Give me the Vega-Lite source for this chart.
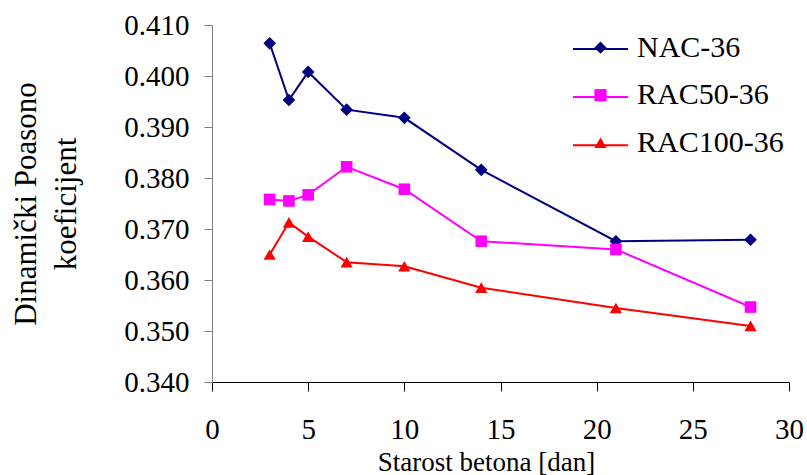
{
  "$schema": "https://vega.github.io/schema/vega-lite/v6.json",
  "autosize": {"type": "none"},
  "padding": {"left": 212, "top": 25, "right": 18, "bottom": 93},
  "width": 577,
  "height": 357,
  "background": "white",
  "config": {
    "view": {"stroke": null},
    "font": "Liberation Serif"
  },
  "data": {
    "values": [
      {"dan": 3, "serija": "NAC-36", "v": 0.4064},
      {"dan": 4, "serija": "NAC-36", "v": 0.3953},
      {"dan": 5, "serija": "NAC-36", "v": 0.4008},
      {"dan": 7, "serija": "NAC-36", "v": 0.3934},
      {"dan": 10, "serija": "NAC-36", "v": 0.3918},
      {"dan": 14, "serija": "NAC-36", "v": 0.3816},
      {"dan": 21, "serija": "NAC-36", "v": 0.3676},
      {"dan": 28, "serija": "NAC-36", "v": 0.3679},
      {"dan": 3, "serija": "RAC50-36", "v": 0.3758},
      {"dan": 4, "serija": "RAC50-36", "v": 0.3755},
      {"dan": 5, "serija": "RAC50-36", "v": 0.3767},
      {"dan": 7, "serija": "RAC50-36", "v": 0.3822},
      {"dan": 10, "serija": "RAC50-36", "v": 0.3778},
      {"dan": 14, "serija": "RAC50-36", "v": 0.3676},
      {"dan": 21, "serija": "RAC50-36", "v": 0.3660},
      {"dan": 28, "serija": "RAC50-36", "v": 0.3547},
      {"dan": 3, "serija": "RAC100-36", "v": 0.3650},
      {"dan": 4, "serija": "RAC100-36", "v": 0.3713},
      {"dan": 5, "serija": "RAC100-36", "v": 0.3685},
      {"dan": 7, "serija": "RAC100-36", "v": 0.3635},
      {"dan": 10, "serija": "RAC100-36", "v": 0.3627},
      {"dan": 14, "serija": "RAC100-36", "v": 0.3585},
      {"dan": 21, "serija": "RAC100-36", "v": 0.3545},
      {"dan": 28, "serija": "RAC100-36", "v": 0.3510}
    ]
  },
  "encoding": {
    "x": {
      "field": "dan", "type": "quantitative",
      "scale": {"domain": [0, 30], "nice": false, "zero": false},
      "axis": {
        "title": "Starost betona [dan]",
        "values": [0, 5, 10, 15, 20, 25, 30],
        "grid": false,
        "domainColor": "#000000", "domainWidth": 1,
        "tickColor": "#000000", "tickSize": 9, "tickWidth": 1,
        "labelFont": "Liberation Serif", "labelFontSize": 29, "labelColor": "#000000",
        "labelPadding": 24, "labelFlush": false, "labelOverlap": false,
        "titleFont": "Liberation Serif", "titleFontSize": 27, "titleFontWeight": "normal", "titleColor": "#000000",
        "titleX": 274, "titleY": 88, "titleBaseline": "alphabetic", "titleAnchor": "middle", "titleAlign": "center"
      }
    },
    "y": {
      "field": "v", "type": "quantitative",
      "scale": {"domain": [0.34, 0.41], "nice": false, "zero": false},
      "axis": {
        "title": ["Dinamički Poasono", "koeficijent"],
        "values": [0.34, 0.35, 0.36, 0.37, 0.38, 0.39, 0.40, 0.41],
        "format": ".3f",
        "grid": false,
        "domainColor": "#808080", "domainWidth": 1,
        "tickColor": "#808080", "tickSize": 8, "tickWidth": 1,
        "labelFont": "Liberation Serif", "labelFontSize": 29, "labelColor": "#000000",
        "labelPadding": 15, "labelFlush": false, "labelOverlap": false,
        "titleFont": "Liberation Serif", "titleFontSize": 31, "titleFontWeight": "normal", "titleColor": "#000000",
        "titleLineHeight": 40,
        "titleX": -201, "titleBaseline": "top", "titleAngle": -90
      }
    }
  },
  "layer": [
    {
      "mark": {"type": "line", "strokeWidth": 2},
      "encoding": {
        "color": {
          "field": "serija", "type": "nominal",
          "sort": ["NAC-36", "RAC50-36", "RAC100-36"],
          "scale": {"range": ["#000080", "#FF00FF", "#FF0000"]},
          "legend": {
            "title": null,
            "orient": "none",
            "legendX": 360,
            "legendY": -4.6,
            "padding": 0,
            "symbolType": "stroke",
            "symbolSize": 3025,
            "symbolStrokeWidth": 2,
            "labelFont": "Liberation Serif",
            "labelFontSize": 30,
            "labelExpr": "''",
            "labelOffset": 10,
            "rowPadding": 4.2
          }
        }
      }
    },
    {
      "transform": [{"filter": "datum.serija === 'NAC-36'"}],
      "mark": {"type": "point", "shape": "diamond", "filled": true, "size": 160, "color": "#000080", "opacity": 1, "strokeWidth": 0}
    },
    {
      "transform": [{"filter": "datum.serija === 'RAC50-36'"}],
      "mark": {"type": "point", "shape": "square", "filled": true, "size": 135, "color": "#FF00FF", "opacity": 1, "strokeWidth": 0}
    },
    {
      "transform": [{"filter": "datum.serija === 'RAC100-36'"}],
      "mark": {"type": "point", "shape": "triangle-up", "filled": true, "size": 150, "color": "#FF0000", "opacity": 1, "strokeWidth": 0}
    },
    {
      "mark": {"type": "point", "filled": true, "size": 0, "strokeWidth": 0},
      "encoding": {
        "fill": {
          "field": "serija", "type": "nominal",
          "scale": {"domain": ["NAC-36", "RAC50-36", "RAC100-36"], "range": ["#000080", "#FF00FF", "#FF0000"]},
          "legend": {
            "title": null,
            "orient": "none",
            "legendX": 373.5,
            "legendY": 7.7,
            "padding": 0,
            "symbolSize": 150,
            "symbolOpacity": 1,
            "symbolStrokeWidth": 0,
            "labelFont": "Liberation Serif",
            "labelFontSize": 30,
            "labelColor": "#000000",
            "labelOffset": 21.5,
            "rowPadding": 17.5
          }
        },
        "shape": {
          "field": "serija", "type": "nominal",
          "scale": {"domain": ["NAC-36", "RAC50-36", "RAC100-36"], "range": ["diamond", "square", "triangle-up"]},
          "legend": {
            "title": null,
            "orient": "none",
            "legendX": 373.5,
            "legendY": 7.7,
            "padding": 0,
            "symbolSize": 150,
            "symbolOpacity": 1,
            "symbolStrokeWidth": 0,
            "labelFont": "Liberation Serif",
            "labelFontSize": 30,
            "labelColor": "#000000",
            "labelOffset": 21.5,
            "rowPadding": 17.5
          }
        }
      }
    }
  ]
}
